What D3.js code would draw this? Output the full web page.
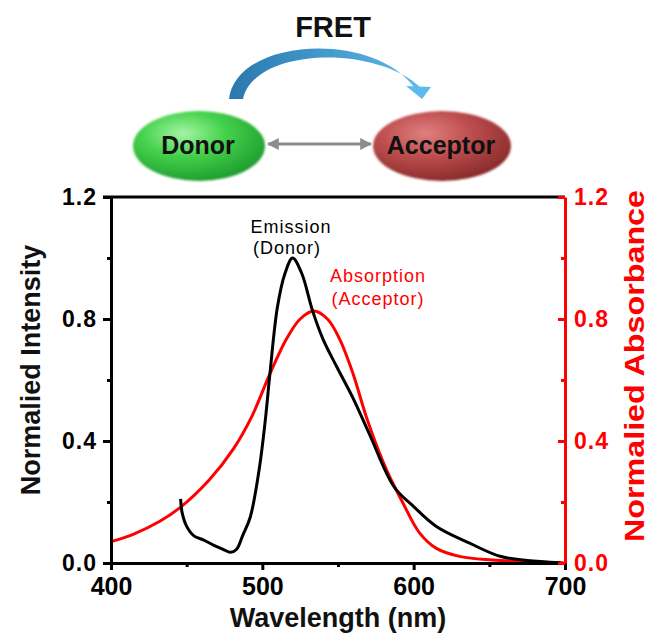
<!DOCTYPE html>
<html>
<head>
<meta charset="utf-8">
<script src="https://cdn.jsdelivr.net/npm/d3@7"></script>
<style>
  html, body { margin: 0; padding: 0; background: #fff; }
  svg { display: block; font-family: "Liberation Sans", Arial, sans-serif; }
</style>
</head>
<body>
<svg id="chart" width="651" height="641"></svg>
<script>
// Donor emission spectrum (wavelength in nm, normalized intensity)
const emissionWl  = [446, 447, 450, 455, 461, 468, 474, 479, 483, 487, 492, 498, 502, 505, 510, 515, 520, 526, 533, 540, 549, 560, 571, 587, 600, 615, 637, 657, 675, 697];
const emissionVal = [0.21, 0.165, 0.12, 0.088, 0.076, 0.058, 0.045, 0.035, 0.045, 0.09, 0.15, 0.31, 0.47, 0.62, 0.84, 0.95, 1.0, 0.95, 0.83, 0.735, 0.645, 0.54, 0.42, 0.25, 0.185, 0.12, 0.065, 0.022, 0.008, 0.001];

// Acceptor absorption spectrum (wavelength in nm, normalized absorbance)
const absorptionWl  = [400, 415, 432, 446, 465, 481, 493, 505, 516, 525, 534, 543, 551, 560, 569, 582, 593, 604, 615, 631, 652, 675, 699];
const absorptionVal = [0.07, 0.095, 0.136, 0.183, 0.273, 0.375, 0.48, 0.62, 0.735, 0.8, 0.826, 0.8, 0.735, 0.62, 0.475, 0.306, 0.196, 0.098, 0.048, 0.021, 0.01, 0.004, 0.001];

// Axis ticks
const xMajorTicks = [400, 500, 600, 700];
const xMinorTicks = [450, 550, 650];
const yMajorTicks = [0.0, 0.4, 0.8, 1.2];
const yMinorTicks = [0.2, 0.6, 1.0];

const RED = "#ff0000";
const svg = d3.select("#chart");

const plot = { left: 111, right: 565, top: 197, bottom: 563 };
const x = d3.scaleLinear().domain([400, 700]).range([plot.left, plot.right]);
const yL = d3.scaleLinear().domain([0, 1.2]).range([plot.bottom, plot.top]);
const yR = d3.scaleLinear().domain([0, 1.2]).range([plot.bottom, plot.top]);

// ---------- FRET scheme ----------
const defs = svg.append("defs");

const gGreen = defs.append("radialGradient").attr("id", "gGreen")
  .attr("cx", "38%").attr("cy", "32%").attr("r", "70%");
gGreen.append("stop").attr("offset", "0%").attr("stop-color", "#a6f5a6");
gGreen.append("stop").attr("offset", "45%").attr("stop-color", "#45d24c");
gGreen.append("stop").attr("offset", "100%").attr("stop-color", "#1f9e2e");

const gRed = defs.append("radialGradient").attr("id", "gRed")
  .attr("cx", "38%").attr("cy", "32%").attr("r", "70%");
gRed.append("stop").attr("offset", "0%").attr("stop-color", "#e08080");
gRed.append("stop").attr("offset", "45%").attr("stop-color", "#c05050");
gRed.append("stop").attr("offset", "100%").attr("stop-color", "#8a2b2b");

const gBlue = defs.append("linearGradient").attr("id", "gBlue")
  .attr("x1", "0%").attr("x2", "100%").attr("y1", "0%").attr("y2", "0%");
gBlue.append("stop").attr("offset", "0%").attr("stop-color", "#2a78ad");
gBlue.append("stop").attr("offset", "100%").attr("stop-color", "#5cbbea");

const soft = defs.append("filter").attr("id", "soft").attr("x", "-10%").attr("y", "-10%").attr("width", "120%").attr("height", "130%");
soft.append("feGaussianBlur").attr("stdDeviation", 0.8);

defs.append("marker").attr("id", "grayHead")
  .attr("viewBox", "0 0 10 10").attr("refX", 9).attr("refY", 5)
  .attr("markerWidth", 4).attr("markerHeight", 4).attr("orient", "auto-start-reverse")
  .append("path").attr("d", "M0,0 L10,5 L0,10 Z").attr("fill", "#8c8c8c");

svg.append("text").attr("x", 333).attr("y", 37).attr("text-anchor", "middle")
  .attr("font-size", 29).attr("font-weight", "bold").attr("fill", "#111").text("FRET");

// curved transfer arrow
svg.append("path")
  .attr("d", "M229,99 C236,38 372,30 414,87 L420,87 C374,44 254,48 243,99 Z")
  .attr("fill", "url(#gBlue)");
svg.append("path")
  .attr("d", "M406,86 L431,87 L422,99 Z")
  .attr("fill", "#5cbbea");

// ellipses
svg.append("ellipse").attr("cx", 199).attr("cy", 146).attr("rx", 66).attr("ry", 35)
  .attr("fill", "url(#gGreen)").attr("filter", "url(#soft)");
svg.append("ellipse").attr("cx", 442).attr("cy", 146).attr("rx", 69).attr("ry", 35)
  .attr("fill", "url(#gRed)").attr("filter", "url(#soft)");

svg.append("line").attr("x1", 268).attr("x2", 371).attr("y1", 144).attr("y2", 144)
  .attr("stroke", "#8c8c8c").attr("stroke-width", 3)
  .attr("marker-start", "url(#grayHead)").attr("marker-end", "url(#grayHead)");

svg.append("text").attr("x", 198).attr("y", 154).attr("text-anchor", "middle")
  .attr("font-size", 25).attr("font-weight", "bold").attr("fill", "#111").text("Donor");
svg.append("text").attr("x", 441).attr("y", 154).attr("text-anchor", "middle")
  .attr("font-size", 25).attr("font-weight", "bold").attr("fill", "#111").text("Acceptor");

// ---------- spectra ----------
const emission = emissionWl.map((w, i) => ({ w, v: emissionVal[i] }));
const absorption = absorptionWl.map((w, i) => ({ w, v: absorptionVal[i] }));

svg.append("path").datum(absorption)
  .attr("d", d3.line().x(d => x(d.w)).y(d => yR(d.v)).curve(d3.curveCatmullRom.alpha(0.5)))
  .attr("fill", "none").attr("stroke", RED).attr("stroke-width", 3);

svg.append("path").datum(emission)
  .attr("d", d3.line().x(d => x(d.w)).y(d => yL(d.v)).curve(d3.curveCatmullRom.alpha(0.5)))
  .attr("fill", "none").attr("stroke", "#000").attr("stroke-width", 3);

// ---------- axes ----------
const axisW = 3;
// top frame
svg.append("line").attr("x1", plot.left - 8).attr("x2", plot.right).attr("y1", plot.top).attr("y2", plot.top)
  .attr("stroke", "#000").attr("stroke-width", axisW);

function styleAxis(g, color, size) {
  g.select(".domain").attr("stroke", color).attr("stroke-width", axisW);
  g.selectAll(".tick line").attr("stroke", color).attr("stroke-width", axisW);
  g.selectAll(".tick text").attr("fill", color).attr("font-size", size).attr("font-weight", "bold")
    .attr("font-family", "Liberation Sans, Arial, sans-serif");
}

// bottom axis
const gx = svg.append("g").attr("transform", `translate(0,${plot.bottom})`)
  .call(d3.axisBottom(x).tickValues(xMajorTicks).tickFormat(d3.format("d")).tickSizeInner(7).tickSizeOuter(0).tickPadding(7));
styleAxis(gx, "#000", 25);
const gxm = svg.append("g").attr("transform", `translate(0,${plot.bottom})`)
  .call(d3.axisBottom(x).tickValues(xMinorTicks).tickFormat("").tickSizeInner(4).tickSizeOuter(0));
gxm.select(".domain").remove();
gxm.selectAll(".tick line").attr("stroke", "#000").attr("stroke-width", axisW);

// left axis
const gy = svg.append("g").attr("transform", `translate(${plot.left},0)`)
  .call(d3.axisLeft(yL).tickValues(yMajorTicks).tickFormat(d3.format(".1f")).tickSizeInner(8).tickSizeOuter(0).tickPadding(6));
styleAxis(gy, "#000", 23);
gy.selectAll(".tick text").attr("letter-spacing", 1);
const gym = svg.append("g").attr("transform", `translate(${plot.left},0)`)
  .call(d3.axisLeft(yL).tickValues(yMinorTicks).tickFormat("").tickSizeInner(4).tickSizeOuter(0));
gym.select(".domain").remove();
gym.selectAll(".tick line").attr("stroke", "#000").attr("stroke-width", axisW);

// right axis (ticks point into the plot)
const gr = svg.append("g").attr("transform", `translate(${plot.right},0)`)
  .call(d3.axisRight(yR).tickValues(yMajorTicks).tickFormat(d3.format(".1f")).tickSizeInner(-7).tickSizeOuter(0).tickPadding(9));
styleAxis(gr, RED, 23);
gr.selectAll(".tick text").attr("letter-spacing", 1);
const grm = svg.append("g").attr("transform", `translate(${plot.right},0)`)
  .call(d3.axisRight(yR).tickValues(yMinorTicks).tickFormat("").tickSizeInner(-4).tickSizeOuter(0));
grm.select(".domain").remove();
grm.selectAll(".tick line").attr("stroke", RED).attr("stroke-width", axisW);

// axis titles
svg.append("text").attr("x", 338).attr("y", 627).attr("text-anchor", "middle")
  .attr("font-size", 27).attr("font-weight", "bold").attr("fill", "#111").text("Wavelength (nm)");
svg.append("text").attr("transform", "translate(40,370) rotate(-90)").attr("text-anchor", "middle")
  .attr("font-size", 27).attr("font-weight", "bold").attr("fill", "#111").text("Normalied Intensity");
svg.append("text").attr("transform", "translate(644,366) rotate(-90)").attr("text-anchor", "middle")
  .attr("font-size", 27).attr("font-weight", "bold").attr("fill", RED)
  .attr("textLength", 352).attr("lengthAdjust", "spacingAndGlyphs")
  .text("Normalied Absorbance");

// curve annotations
const note = (tx, ty, txt, color) => svg.append("text").attr("x", tx).attr("y", ty)
  .attr("text-anchor", "middle").attr("font-size", 18).attr("letter-spacing", 1)
  .attr("fill", color).text(txt);
note(291, 233, "Emission", "#000");
note(287, 254, "(Donor)", "#000");
note(378, 282, "Absorption", RED);
note(378, 305, "(Acceptor)", RED);
</script>
</body>
</html>
